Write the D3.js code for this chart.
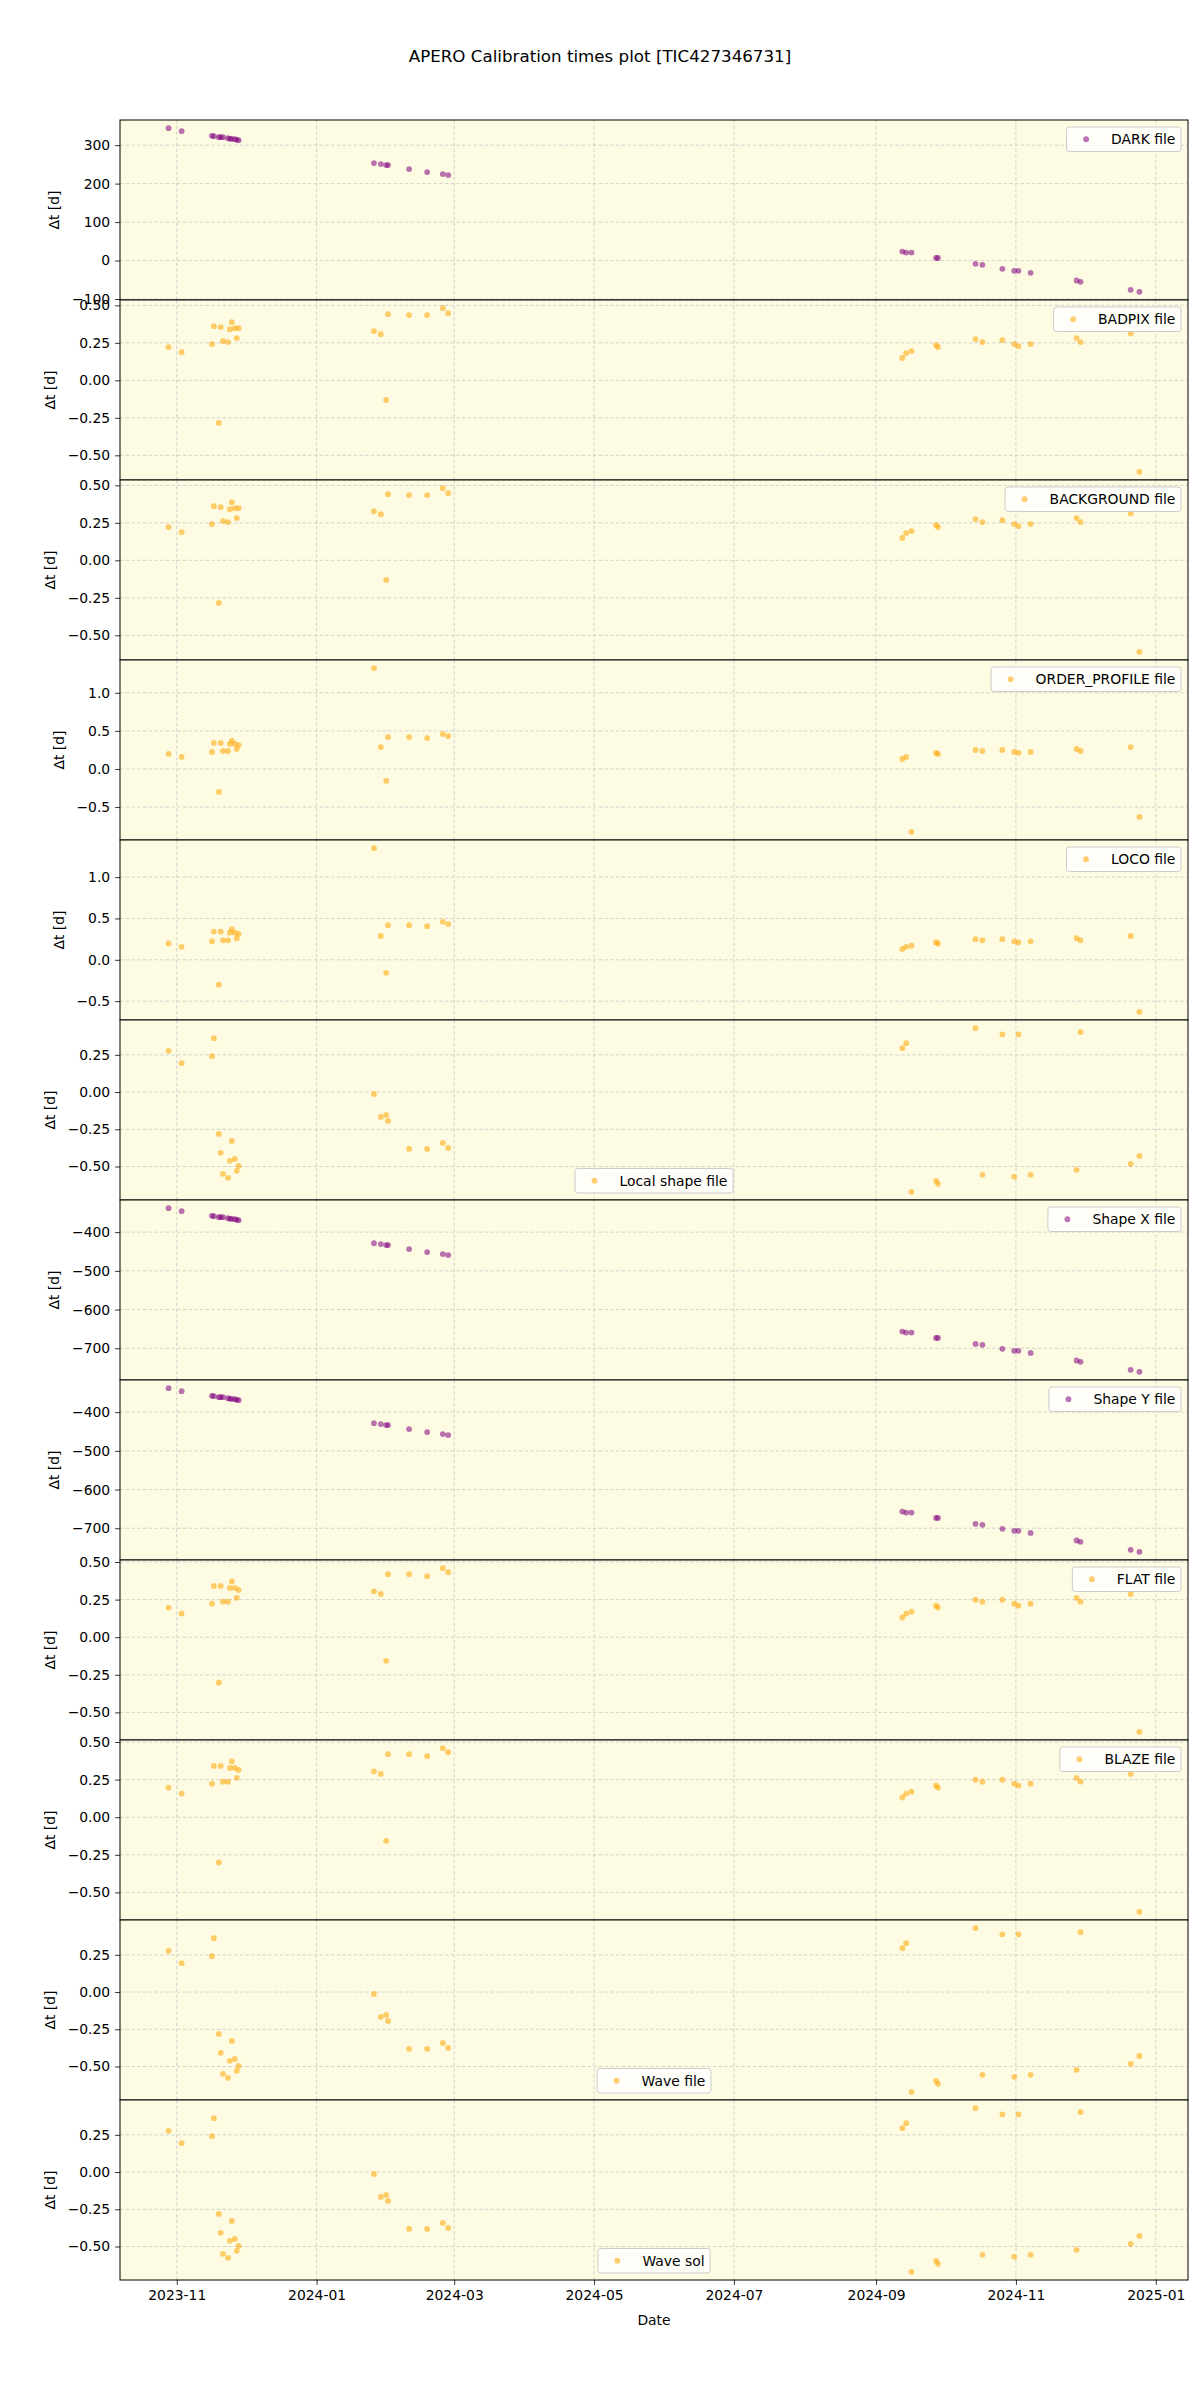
<!DOCTYPE html>
<html><head><meta charset="utf-8">
<script src="https://cdn.jsdelivr.net/npm/d3@7"></script>
<style>
body{margin:0;background:#fff}
svg{display:block}
text{font-family:"DejaVu Sans",sans-serif;fill:#000}
</style>
</head><body>
<svg id="chart" width="1200" height="2400"></svg>
<script>
// ---------------- DATA ----------------
const obsDates = [
 "2023-10-28T10:00","2023-11-03T03:00","2023-11-16T08:00","2023-11-17T04:00","2023-11-19T08:00",
 "2023-11-20T04:00","2023-11-21T04:00","2023-11-23T08:00","2023-11-24T04:00","2023-11-25T00:00",
 "2023-11-26T08:00","2023-11-27T04:00","2023-11-28T00:00",
 "2024-01-26T00:00","2024-01-29T00:00","2024-01-31T08:00","2024-02-01T04:00","2024-02-10T08:00",
 "2024-02-18T05:00","2024-02-25T01:00","2024-02-27T09:00",
 "2024-09-12T11:00","2024-09-14T03:00","2024-09-16T11:00","2024-09-27T04:00","2024-09-28T00:00",
 "2024-10-14T09:00","2024-10-17T09:00","2024-10-26T02:00","2024-10-31T06:00","2024-11-02T02:00",
 "2024-11-07T10:00","2024-11-27T11:00","2024-11-29T04:00","2024-12-21T01:00","2024-12-24T21:00"
];

const darkValues = [344.1,336.3,324.2,323.3,320.7,320.7,320.7,318.2,316.5,316.5,315.6,313.8,313.0,
 253.3,250.7,248.1,248.1,237.7,230.0,224.8,222.2,
 23.3,20.7,20.7,6.9,6.9,-8.6,-11.2,-21.6,-26.8,-26.8,-32.0,-51.9,-55.3,-76.1,-81.3];

const badpixValues = [0.222,0.188,0.242,0.361,-0.284,0.355,0.262,0.255,0.341,0.388,0.348,0.282,0.348,
 0.328,0.308,-0.131,0.441,0.435,0.435,0.481,0.448,
 0.149,0.182,0.195,0.235,0.222,0.275,0.255,0.268,0.242,0.228,0.242,0.282,0.255,0.313,-0.610];

const backgroundValues = [0.222,0.188,0.242,0.361,-0.284,0.355,0.262,0.255,0.341,0.388,0.348,0.282,0.348,
 0.328,0.308,-0.131,0.441,0.435,0.435,0.481,0.448,
 0.149,0.182,0.195,0.235,0.222,0.275,0.255,0.268,0.242,0.228,0.242,0.282,0.255,0.313,-0.610];

const orderProfileValues = [0.197,0.157,0.223,0.341,-0.301,0.341,0.236,0.236,0.328,0.371,0.328,0.262,0.314,
 1.323,0.288,-0.157,0.419,0.419,0.406,0.459,0.432,
 0.131,0.157,-0.825,0.210,0.197,0.249,0.236,0.249,0.223,0.210,0.223,0.262,0.236,0.288,-0.629];

const locoValues = [0.197,0.157,0.223,0.341,-0.301,0.341,0.236,0.236,0.328,0.371,0.328,0.262,0.314,
 1.350,0.288,-0.157,0.419,0.419,0.406,0.459,0.432,
 0.131,0.157,0.170,0.210,0.197,0.249,0.236,0.249,0.223,0.210,0.223,0.262,0.236,0.288,-0.629];

const localShapeValues = [0.277,0.194,0.241,0.362,-0.281,-0.408,-0.549,-0.576,-0.462,-0.328,-0.449,-0.529,-0.496,
 -0.013,-0.167,-0.154,-0.194,-0.382,-0.382,-0.342,-0.375,
 0.295,0.328,-0.670,-0.596,-0.616,0.429,-0.556,0.388,-0.569,0.388,-0.556,-0.522,0.402,-0.482,-0.429];

const shapeXValues = [-338.1,-345.9,-357.9,-358.8,-361.3,-361.3,-361.3,-363.9,-365.6,-365.6,-366.5,-368.2,-369.1,
 -428.4,-430.9,-433.5,-433.5,-443.8,-451.5,-456.7,-459.3,
 -656.9,-659.5,-659.5,-673.2,-673.2,-688.7,-691.2,-701.5,-706.7,-706.7,-711.9,-731.6,-735.1,-755.7,-760.8];

const shapeYValues = [-338.1,-345.9,-357.9,-358.8,-361.3,-361.3,-361.3,-363.9,-365.6,-365.6,-366.5,-368.2,-369.1,
 -428.4,-430.9,-433.5,-433.5,-443.8,-451.5,-456.7,-459.3,
 -656.9,-659.5,-659.5,-673.2,-673.2,-688.7,-691.2,-701.5,-706.7,-706.7,-711.9,-731.6,-735.1,-755.7,-760.8];

const flatValues = [0.197,0.157,0.223,0.341,-0.301,0.341,0.236,0.236,0.328,0.371,0.328,0.262,0.314,
 0.305,0.288,-0.157,0.419,0.419,0.406,0.459,0.432,
 0.131,0.157,0.170,0.210,0.197,0.249,0.236,0.249,0.223,0.210,0.223,0.262,0.236,0.288,-0.629];

const blazeValues = [0.197,0.157,0.223,0.341,-0.301,0.341,0.236,0.236,0.328,0.371,0.328,0.262,0.314,
 0.305,0.288,-0.157,0.419,0.419,0.406,0.459,0.432,
 0.131,0.157,0.170,0.210,0.197,0.249,0.236,0.249,0.223,0.210,0.223,0.262,0.236,0.288,-0.629];

const waveFileValues = [0.277,0.194,0.241,0.362,-0.281,-0.408,-0.549,-0.576,-0.462,-0.328,-0.449,-0.529,-0.496,
 -0.013,-0.167,-0.154,-0.194,-0.382,-0.382,-0.342,-0.375,
 0.295,0.328,-0.670,-0.596,-0.616,0.429,-0.556,0.388,-0.569,0.388,-0.556,-0.522,0.402,-0.482,-0.429];

const waveSolValues = [0.277,0.194,0.241,0.362,-0.281,-0.408,-0.549,-0.576,-0.462,-0.328,-0.449,-0.529,-0.496,
 -0.013,-0.167,-0.154,-0.194,-0.382,-0.382,-0.342,-0.375,
 0.295,0.328,-0.670,-0.596,-0.616,0.429,-0.556,0.388,-0.569,0.388,-0.556,-0.522,0.402,-0.482,-0.429];

const seriesNames = ["DARK file","BADPIX file","BACKGROUND file","ORDER_PROFILE file","LOCO file",
 "Local shape file","Shape X file","Shape Y file","FLAT file","BLAZE file","Wave file","Wave sol"];
const seriesValues = [darkValues,badpixValues,backgroundValues,orderProfileValues,locoValues,
 localShapeValues,shapeXValues,shapeYValues,flatValues,blazeValues,waveFileValues,waveSolValues];
const seriesColorKeys = ["purple","orange","orange","orange","orange","orange","purple","purple","orange","orange","orange","orange"];
const legendLocs = ["ur","ur","ur","ur","ur","lc","ur","ur","ur","ur","lc","lc"];

const ticksQuarter = [-0.50,-0.25,0.00,0.25,0.50];
const ticksHalf = [-0.5,0.0,0.5,1.0];
const ticksShape = [-700,-600,-500,-400];
const ticksDark = [-100,0,100,200,300];
const yTickValues = [ticksDark,ticksQuarter,ticksQuarter,ticksHalf,ticksHalf,ticksQuarter,ticksShape,ticksShape,ticksQuarter,ticksQuarter,ticksQuarter,ticksQuarter];
const yTickFormats = ["d",".2f",".2f",".1f",".1f",".2f","d","d",".2f",".2f",".2f",".2f"];
const xTickLabels = ["2023-11","2024-01","2024-03","2024-05","2024-07","2024-09","2024-11","2025-01"];

const titleText = "APERO Calibration times plot [TIC427346731]";
const xLabelText = "Date";
const yLabelText = "Δt [d]";

// ---------------- STYLE / LAYOUT ----------------
const palette = {purple:"#800080", orange:"#FFA500"};
const FS = 13.9;
const L = 120, R = 1188, T = 120, PH = 180;
const bg = "#fdfbe2";

const svg = d3.select("#chart");
svg.append("rect").attr("width",1200).attr("height",2400).attr("fill","#fff");

svg.append("text").attr("x",600).attr("y",62).attr("text-anchor","middle")
  .attr("font-size",16.7).text(titleText);

const parseT = d3.timeParse("%Y-%m-%dT%H:%M");
const dates = obsDates.map(parseT);
const xTicks = xTickLabels.map(d3.timeParse("%Y-%m"));
const dExt = d3.extent(dates);
const span = dExt[1]-dExt[0];
const x = d3.scaleTime().domain([new Date(+dExt[0]-0.05*span), new Date(+dExt[1]+0.05*span)]).range([L,R]);

seriesValues.forEach((vals,i)=>{
  const y0 = T + i*PH, y1 = y0 + PH;
  const ext = d3.extent(vals), pad = (ext[1]-ext[0])*0.05;
  const y = d3.scaleLinear().domain([ext[0]-pad, ext[1]+pad]).range([y1,y0]);
  const g = svg.append("g");
  g.append("rect").attr("x",L).attr("y",y0).attr("width",R-L).attr("height",PH).attr("fill",bg);

  const grid = g.append("g").attr("stroke","#c9c9c9").attr("stroke-width",0.8).attr("stroke-dasharray","3.5,2.2");
  grid.selectAll("line.v").data(xTicks).join("line").attr("class","v")
    .attr("x1",d=>x(d)).attr("x2",d=>x(d)).attr("y1",y0).attr("y2",y1);
  const yt = yTickValues[i].filter(v=>v>=y.domain()[0] && v<=y.domain()[1]);
  grid.selectAll("line.h").data(yt).join("line").attr("class","h")
    .attr("x1",L).attr("x2",R).attr("y1",d=>y(d)).attr("y2",d=>y(d));

  const col = palette[seriesColorKeys[i]];
  g.append("g").selectAll("circle").data(vals).join("circle")
    .attr("cx",(d,j)=>x(dates[j])).attr("cy",d=>y(d)).attr("r",2.9)
    .attr("fill",col).attr("fill-opacity",0.55);

  g.append("rect").attr("x",L).attr("y",y0).attr("width",R-L).attr("height",PH)
    .attr("fill","none").attr("stroke","#000").attr("stroke-width",1);

  const ax = g.append("g").attr("transform",`translate(${L},0)`)
    .call(d3.axisLeft(y).tickValues(yt).tickSize(4.9).tickPadding(4.9).tickFormat(d3.format(yTickFormats[i])));
  ax.select(".domain").remove();
  ax.selectAll("text").attr("font-size",FS).attr("font-family","DejaVu Sans").attr("fill","#000");
  ax.selectAll("line").attr("stroke","#000").attr("stroke-width",0.8);

  let maxW = 0;
  ax.selectAll("text").each(function(){ maxW = Math.max(maxW, this.getComputedTextLength()); });
  const lx = L - 9.8 - maxW - 5.6 - 7;
  g.append("text").attr("transform",`translate(${lx},${(y0+y1)/2}) rotate(-90)`)
    .attr("text-anchor","middle").attr("font-size",FS).text(yLabelText);

  // legend
  const lg = g.append("g");
  const txt = lg.append("text").attr("font-size",FS).text(seriesNames[i]);
  const tw = txt.node().getComputedTextLength();
  const bw = 5.6 + 27.8 + 11.1 + tw + 5.6, bh = 24.5;
  let bx, by;
  if (legendLocs[i]==="ur") { bx = R - 7 - bw; by = y0 + 7; }
  else { bx = (L+R)/2 - bw/2; by = y1 - 7 - bh; }
  lg.insert("rect","text").attr("x",bx).attr("y",by).attr("width",bw).attr("height",bh)
    .attr("rx",2.8).attr("fill","#fff").attr("fill-opacity",0.8).attr("stroke","#cccccc").attr("stroke-width",1);
  lg.append("circle").attr("cx",bx+19.5).attr("cy",by+bh/2).attr("r",2.9).attr("fill",col).attr("fill-opacity",0.55);
  txt.attr("x",bx+44.5).attr("y",by+bh/2+5);

  if (i===seriesValues.length-1) {
    const xa = svg.append("g").attr("transform",`translate(0,${y1})`)
      .call(d3.axisBottom(x).tickValues(xTicks).tickSize(4.9).tickPadding(4.9).tickFormat(d3.timeFormat("%Y-%m")));
    xa.select(".domain").remove();
    xa.selectAll("text").attr("font-size",FS).attr("font-family","DejaVu Sans").attr("fill","#000");
    xa.selectAll("line").attr("stroke","#000").attr("stroke-width",0.8);
    svg.append("text").attr("x",(L+R)/2).attr("y",y1+45).attr("text-anchor","middle")
      .attr("font-size",FS).text(xLabelText);
  }
});
</script>
</body></html>
